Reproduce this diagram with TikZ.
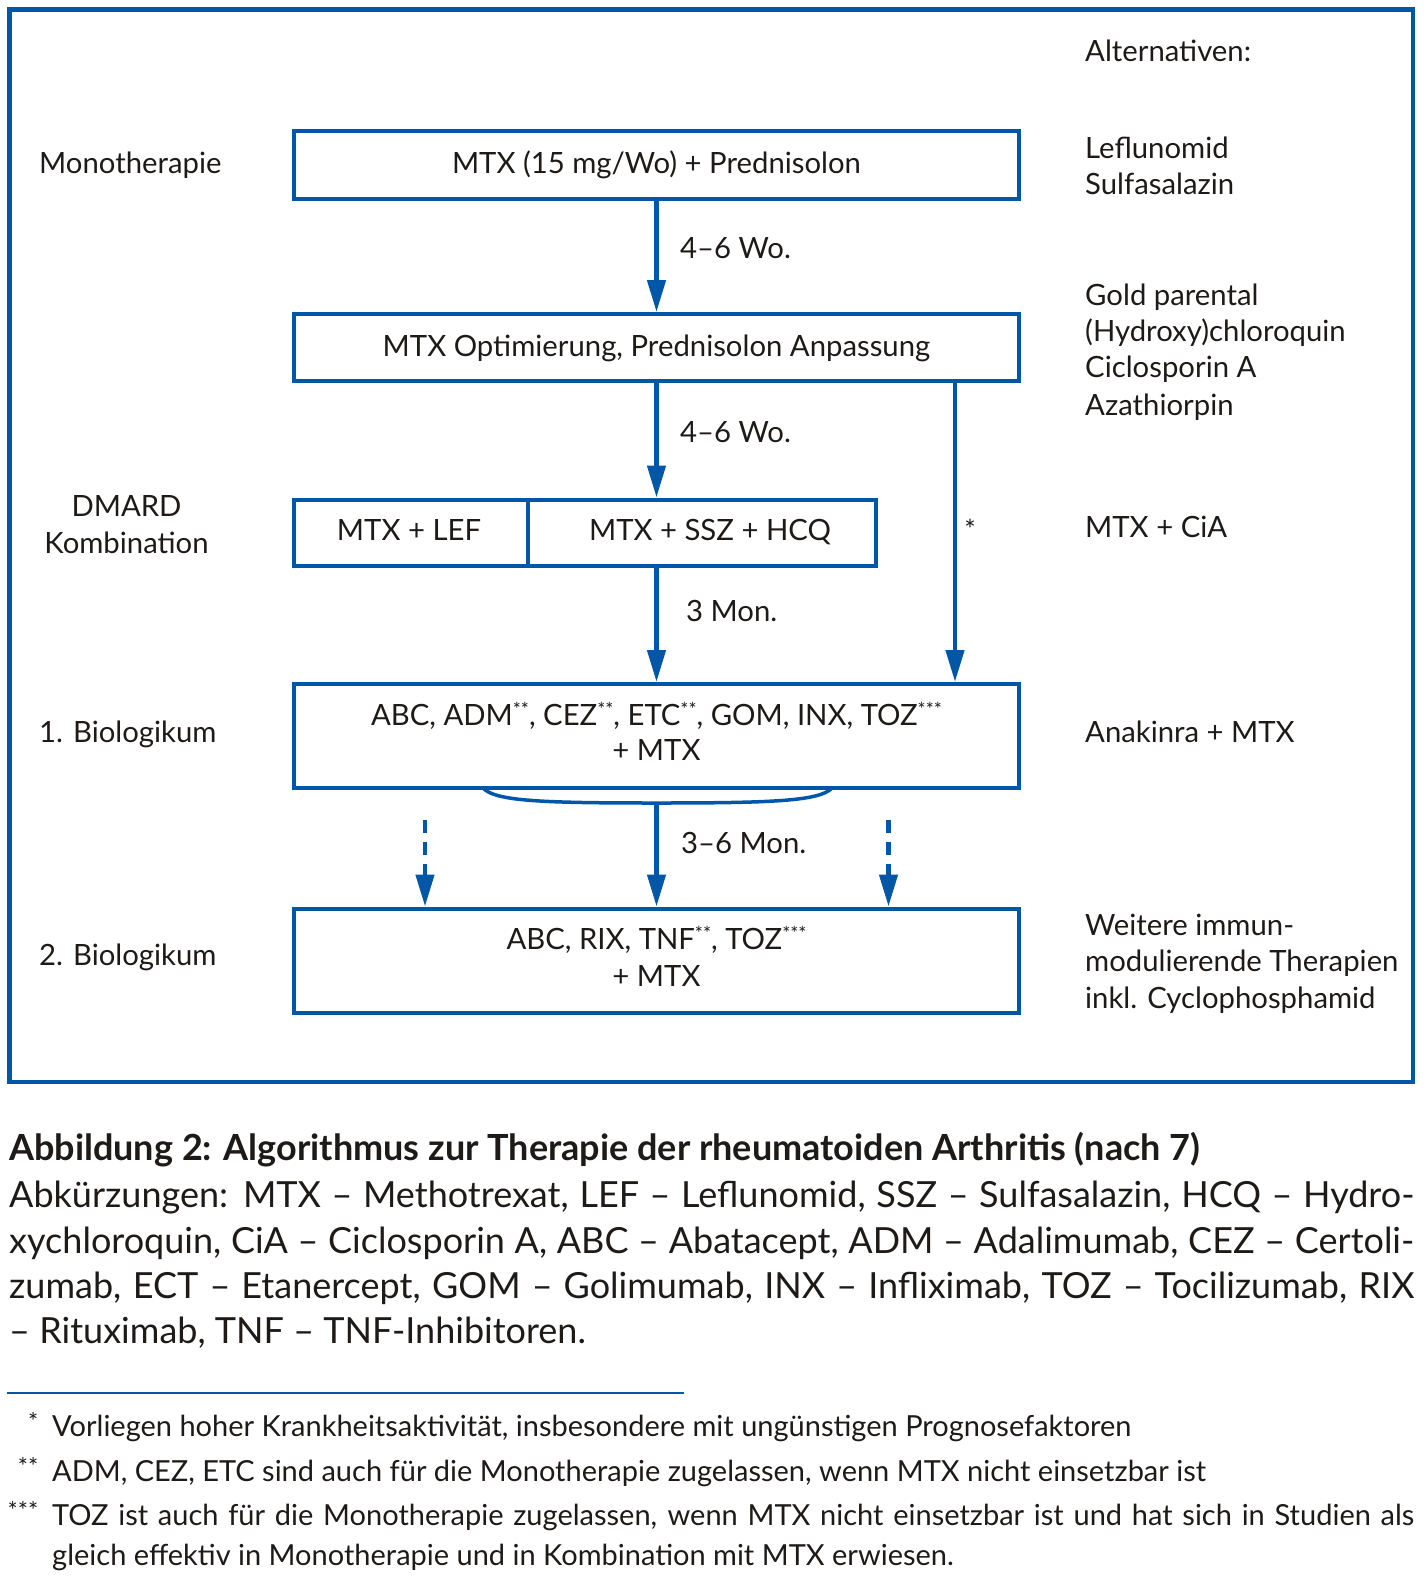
\documentclass[tikz,border=0pt]{standalone}
\usepackage{fontspec}
\setmainfont{Lato}
\usetikzlibrary{arrows.meta}
\definecolor{nblue}{RGB}{0,87,168}
\definecolor{ink}{RGB}{30,26,24}
\newcommand\dsz{\fontsize{29.3}{36}\selectfont}
\newcommand\capsz{\fontsize{36}{42}\selectfont}
\newcommand\fnsz{\fontsize{29}{34}\selectfont}
\newcommand\smst[1]{\raisebox{9pt}{\fontsize{19}{19}\selectfont #1}}
\begin{document}
\begin{tikzpicture}[x=1pt,y=-1pt,font=\dsz,text=ink,
  box/.style={draw=nblue,line width=4pt,inner sep=0pt},
  arr/.style={draw=nblue,line width=4.5pt,-{Triangle[length=32pt,width=18pt]}},
  bracecurve/.style={draw=nblue,line width=3.5pt},
  lbl/.style={anchor=base west,inner sep=0pt},
  ctr/.style={anchor=base,inner sep=0pt},
  fnmark/.style={anchor=base east,inner sep=0pt,font=\fontsize{24}{24}\selectfont}]
\useasboundingbox (0,0) rectangle (1424,1588);
\draw[nblue,line width=4.5pt] (9.5,9.5) rectangle (1413,1082);

% boxes
\node[box,minimum width=725pt,minimum height=67.7pt] (b1) at (656.5,164.85) {};
\node[ctr] (t1) at (656.5,173) {MTX (15 mg/Wo) + Prednisolon};
\node[box,minimum width=725pt,minimum height=67.3pt] (b2) at (656.5,347.7) {};
\node[ctr] (t2) at (656.5,356.5) {MTX Optimierung, Prednisolon Anpassung};
\node[box,minimum width=234pt,minimum height=66pt] (b3l) at (411,532.5) {};
\node[ctr] (t3l) at (409,540) {MTX + LEF};
\node[box,minimum width=348pt,minimum height=66pt] (b3r) at (702,532.5) {};
\node[ctr] (t3r) at (710,540) {MTX + SSZ + HCQ};
\node[box,minimum width=725pt,minimum height=104pt] (b4) at (656.5,736) {};
\node[ctr] (t4a) at (656.5,725) {ABC, ADM\smst{**}, CEZ\smst{**}, ETC\smst{**}, GOM, INX, TOZ\smst{***}};
\node[ctr] (t4b) at (656.5,760.5) {+ MTX};
\node[box,minimum width=725pt,minimum height=104pt] (b5) at (656.5,960.5) {};
\node[ctr] (t5a) at (656.5,949.6) {ABC, RIX, TNF\smst{**}, TOZ\smst{***}};
\node[ctr] (t5b) at (656.5,986) {+ MTX};

% connectors
\draw[arr] (b1.south) -- (b2.north);
\draw[arr] (b2.south) -- (b2.south |- b3r.north);
\draw[arr] (b2.south |- b3r.south) -- (b4.north);
\coordinate (rx) at (955,0);
\draw[arr] (b2.south -| rx) -- (b4.north -| rx);
\coordinate (bl) at (483,788);
\coordinate (br) at (832,788);
\coordinate (bm) at (656.5,803);
\draw[bracecurve] (bl) .. controls (495,801) and (540,803) .. (bm) .. controls (773,803) and (820,801) .. (br);
\draw[arr] (bm) -- (b5.north);
\coordinate (dl) at (425,820);
\coordinate (dr) at (888.5,820);
\draw[arr,dash pattern=on 13pt off 9pt] (dl) -- (dl |- b5.north);
\draw[arr,dash pattern=on 13pt off 9pt] (dr) -- (dr |- b5.north);

% connector labels
\node[lbl] (w1) at (680,258) {4–6 Wo.};
\node[lbl] (w2) at (680,442) {4–6 Wo.};
\node[lbl] (m1) at (686,621.7) {3 Mon.};
\node[lbl] (m2) at (681,853.5) {3–6 Mon.};
\node[ctr,font=\fontsize{27}{27}\selectfont] (st) at (970,539) {*};

% left labels
\node[lbl] (l1) at (39,173) {Monotherapie};
\node[ctr] (l2a) at (126.5,516.5) {DMARD};
\node[ctr] (l2b) at (126.5,553) {Kombination};
\node[lbl] (l3) at (39,742.5) {1. Biologikum};
\node[lbl] (l4) at (39,965) {2. Biologikum};

% right column
\node[lbl] (r0) at (1085,61) {Alternativen:};
\node[lbl] (r1) at (1085,158) {Leflunomid};
\node[lbl] (r2) at (1085,194.5) {Sulfasalazin};
\node[lbl] (r3) at (1085,305) {Gold parental};
\node[lbl] (r4) at (1085,341.5) {(Hydroxy)chloroquin};
\node[lbl] (r5) at (1085,377.5) {Ciclosporin A};
\node[lbl] (r6) at (1085,415) {Azathiorpin};
\node[lbl] (r7) at (1085,537) {MTX + CiA};
\node[lbl] (r8) at (1085,742.5) {Anakinra + MTX};
\node[lbl] (r9) at (1085,935.5) {Weitere immun-};
\node[lbl] (r10) at (1085,971.5) {modulierende Therapien};
\node[lbl] (r11) at (1085,1008) {inkl. Cyclophosphamid};

% caption
\node[lbl,font=\capsz\bfseries] (cap) at (9,1160) {Abbildung 2: Algorithmus zur Therapie der rheumatoiden Arthritis (nach 7)};
\node[lbl,font=\capsz] (c1) at (9,1207.5) {\makebox[1405pt][s]{Abkürzungen: MTX – Methotrexat, LEF – Leflunomid, SSZ – Sulfasalazin, HCQ – Hydro-}};
\node[lbl,font=\capsz] (c2) at (9,1253) {\makebox[1405pt][s]{xychloroquin, CiA – Ciclosporin A, ABC – Abatacept, ADM – Adalimumab, CEZ – Certoli-}};
\node[lbl,font=\capsz] (c3) at (9,1298) {\makebox[1405pt][s]{zumab, ECT – Etanercept, GOM – Golimumab, INX – Infliximab, TOZ – Tocilizumab, RIX}};
\node[lbl,font=\capsz] (c4) at (9,1343.5) {– Rituximab, TNF – TNF-Inhibitoren.};

% footnotes
\coordinate (ra) at (7,1393);
\coordinate (rb) at (684,1393);
\draw[nblue,line width=2pt] (ra) -- (rb);
\node[fnmark] (f1m) at (38.5,1430.5) {*};
\node[lbl,font=\fnsz] (f1) at (52,1436.5) {Vorliegen hoher Krankheitsaktivität, insbesondere mit ungünstigen Prognosefaktoren};
\node[fnmark] (f2m) at (38.5,1475) {**};
\node[lbl,font=\fnsz] (f2) at (52,1481) {ADM, CEZ, ETC sind auch für die Monotherapie zugelassen, wenn MTX nicht einsetzbar ist};
\node[fnmark] (f3m) at (38.5,1519) {***};
\node[lbl,font=\fnsz] (f3) at (52,1525) {\makebox[1362pt][s]{TOZ ist auch für die Monotherapie zugelassen, wenn MTX nicht einsetzbar ist und hat sich in Studien als}};
\node[lbl,font=\fnsz] (f4) at (52,1565) {gleich effektiv in Monotherapie und in Kombination mit MTX erwiesen.};
\end{tikzpicture}
\end{document}
